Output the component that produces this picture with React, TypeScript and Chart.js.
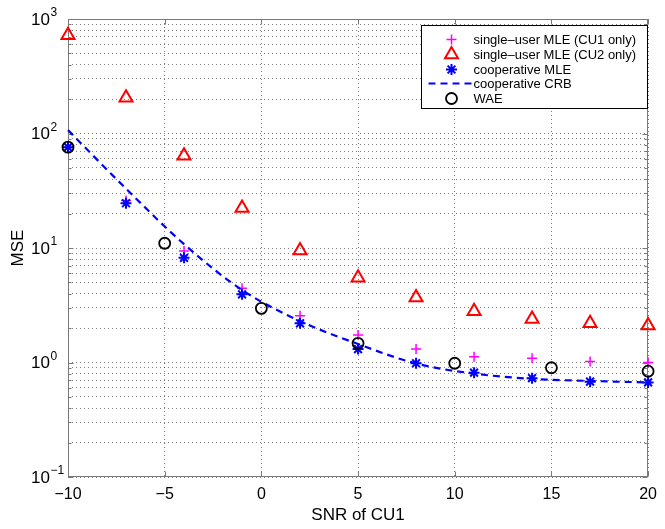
import { useEffect, useRef } from 'react';
import { Chart, registerables } from 'chart.js';
import { drawPoint } from 'chart.js/helpers';

Chart.register(...registerables);

// SNR positions (dB)
const snrMle = [-10, -7, -4, -1, 2, 5, 8, 11, 14, 17, 20];
const snrWae = [-10, -5, 0, 5, 10, 15, 20];

// MSE values
const mseCu1Only = [76, 26, 9.4, 4.45, 2.56, 1.74, 1.31, 1.12, 1.09, 1.02, 1.0];
const mseCu2Only = [720, 205, 64, 22.3, 9.5, 5.5, 3.7, 2.8, 2.4, 2.2, 2.1];
const mseCoopMle = [76, 24.6, 8.2, 3.94, 2.2, 1.31, 0.985, 0.815, 0.73, 0.68, 0.67];
const mseCoopCrb = [107, 33, 10.8, 4.3, 2.3, 1.45, 0.98, 0.8, 0.72, 0.69, 0.67];
const mseWae = [76, 11.0, 2.97, 1.47, 0.985, 0.9, 0.84];

const xTickValues = [-10, -5, 0, 5, 10, 15, 20];
const yDecadeExponents = [-1, 0, 1, 2, 3];
const yMantissas = [1, 2, 3, 4, 5, 6, 7, 8, 9];

const seriesLabels = [
  'single–user MLE (CU1 only)',
  'single–user MLE (CU2 only)',
  'cooperative MLE',
  'cooperative CRB',
  'WAE',
];

const FONT = '"Liberation Sans", Arial, Helvetica, sans-serif';

function buildYTicks(): number[] {
  const out: number[] = [];
  for (let e = -1; e < 3; e++) {
    for (const m of yMantissas) out.push(Number((m * Math.pow(10, e)).toPrecision(10)));
  }
  out.push(1000);
  return out;
}

function isDecade(v: number) {
  const l = Math.log10(v);
  return Math.abs(l - Math.round(l)) < 1e-9;
}

const toPts = (xs: number[], ys: number[]) => xs.map((x, i) => ({ x, y: ys[i] }));

export default function App() {
  const ref = useRef<HTMLCanvasElement>(null);

  useEffect(() => {
    document.body.style.margin = '0';
    const canvas = ref.current;
    if (!canvas) return;

    const frame = {
      id: 'frame',
      beforeDatasetsDraw(chart: any) {
        const { ctx, chartArea: a, scales } = chart;
        const L = Math.round(a.left) + 0.5;
        const R = Math.round(a.right) - 0.5;
        const T = Math.round(a.top) + 0.5;
        const B = Math.round(a.bottom) - 0.5;
        ctx.save();
        ctx.strokeStyle = '#7a7a7a';
        ctx.lineWidth = 1;
        ctx.setLineDash([]);
        ctx.strokeRect(L, T, R - L, B - T);
        ctx.beginPath();
        for (const t of scales.x.ticks) {
          const px = Math.round(scales.x.getPixelForValue(t.value)) + 0.5;
          ctx.moveTo(px, B);
          ctx.lineTo(px, B - 5);
          ctx.moveTo(px, T);
          ctx.lineTo(px, T + 5);
        }
        for (const t of scales.y.ticks) {
          const py = Math.round(scales.y.getPixelForValue(t.value)) + 0.5;
          const len = isDecade(t.value) ? 5 : 3;
          ctx.moveTo(L, py);
          ctx.lineTo(L + len, py);
          ctx.moveTo(R, py);
          ctx.lineTo(R - len, py);
        }
        ctx.stroke();
        ctx.restore();
      },
      afterDraw(chart: any) {
        const { ctx, chartArea: a, scales } = chart;
        ctx.save();
        // y decade labels with superscript exponents
        ctx.fillStyle = '#000';
        for (const e of yDecadeExponents) {
          const py = scales.y.getPixelForValue(Math.pow(10, e));
          ctx.font = `17px ${FONT}`;
          ctx.textAlign = 'right';
          ctx.textBaseline = 'middle';
          ctx.fillText('10', a.left - 18, py + 1);
          ctx.font = `12px ${FONT}`;
          ctx.textAlign = 'left';
          ctx.fillText(e < 0 ? '−' + Math.abs(e) : String(e), a.left - 17.5, py - 6);
        }
        // legend
        const w = 226;
        const h = 83;
        const left = Math.round(a.right) - 1 - w + 0.5;
        const top = Math.round(a.top) + 6 + 0.5;
        ctx.fillStyle = '#fff';
        ctx.fillRect(left, top, w, h);
        ctx.strokeStyle = '#000';
        ctx.lineWidth = 1;
        ctx.setLineDash([]);
        ctx.strokeRect(left, top, w, h);
        const rows = [14, 29, 44, 58, 73];
        const ds = chart.data.datasets;
        ds.forEach((d: any, i: number) => {
          const y = top + rows[i];
          const mx = left + 30;
          ctx.save();
          if (d.pointRadius === 0) {
            ctx.strokeStyle = d.borderColor;
            ctx.lineWidth = d.borderWidth;
            ctx.setLineDash(d.borderDash);
            ctx.beginPath();
            ctx.moveTo(left + 7, y);
            ctx.lineTo(left + 51, y);
            ctx.stroke();
          } else {
            ctx.strokeStyle = d.borderColor;
            ctx.fillStyle = d.backgroundColor;
            ctx.lineWidth = d.pointBorderWidth;
            drawPoint(ctx, {
              pointStyle: d.pointStyle,
              rotation: 0,
              radius: d.pointRadius,
              borderWidth: d.pointBorderWidth,
            } as any, mx, y);
          }
          ctx.restore();
          ctx.fillStyle = '#000';
          ctx.font = `13px ${FONT}`;
          ctx.textAlign = 'left';
          ctx.textBaseline = 'middle';
          ctx.fillText(d.label, left + 52, y + 1);
        });
        ctx.restore();
      },
    };

    const yTicks = buildYTicks();

    const chart = new Chart(canvas, {
      type: 'scatter',
      data: {
        datasets: [
          {
            label: seriesLabels[0],
            data: toPts(snrMle, mseCu1Only),
            pointStyle: 'cross',
            pointRadius: 5,
            pointBorderWidth: 1.5,
            borderColor: '#ff00ff',
            backgroundColor: '#ff00ff',
            clip: false,
            order: 5,
          },
          {
            label: seriesLabels[1],
            data: toPts(snrMle, mseCu2Only),
            pointStyle: 'triangle',
            pointRadius: 7.5,
            pointBorderWidth: 2,
            borderColor: '#ff0000',
            backgroundColor: 'rgba(0,0,0,0)',
            clip: false,
            order: 4,
          },
          {
            label: seriesLabels[2],
            data: toPts(snrMle, mseCoopMle),
            pointStyle: 'star',
            pointRadius: 5.5,
            pointBorderWidth: 2,
            borderColor: '#0000ff',
            backgroundColor: '#0000ff',
            clip: false,
            order: 3,
          },
          {
            type: 'line',
            label: seriesLabels[3],
            data: toPts(snrMle, mseCoopCrb),
            showLine: true,
            pointRadius: 0,
            borderColor: '#0000ff',
            backgroundColor: '#0000ff',
            borderWidth: 2.2,
            borderDash: [7, 5],
            fill: false,
            cubicInterpolationMode: 'monotone',
            clip: false,
            order: 2,
          } as any,
          {
            label: seriesLabels[4],
            data: toPts(snrWae, mseWae),
            pointStyle: 'circle',
            pointRadius: 5.5,
            pointBorderWidth: 1.8,
            borderColor: '#000000',
            backgroundColor: 'rgba(0,0,0,0)',
            clip: false,
            order: 1,
          },
        ],
      },
      options: {
        animation: false,
        responsive: true,
        maintainAspectRatio: false,
        layout: { padding: { top: 19, right: 12, left: 0, bottom: 0 } },
        plugins: { legend: { display: false }, tooltip: { enabled: false } },
        scales: {
          x: {
            type: 'linear',
            min: -10,
            max: 20,
            afterBuildTicks: (s: any) => {
              s.ticks = xTickValues.map((v) => ({ value: v }));
            },
            afterFit: (s: any) => {
              s.height = 52;
            },
            ticks: {
              color: '#000',
              font: { family: FONT, size: 16 },
              padding: 8,
              maxRotation: 0,
              autoSkip: false,
              callback: (v: any) => (Number(v) < 0 ? '−' + Math.abs(Number(v)) : String(v)),
            },
            grid: { color: 'rgba(0,0,0,0.5)', lineWidth: 1, drawTicks: false },
            border: { display: false, dash: [1, 3] },
            title: {
              display: true,
              text: 'SNR of CU1',
              color: '#000',
              font: { family: FONT, size: 17 },
              padding: { top: 0, bottom: 3 },
            },
          },
          y: {
            type: 'logarithmic',
            min: 0.1,
            max: 1000,
            afterBuildTicks: (s: any) => {
              s.ticks = yTicks.map((v) => ({ value: v, major: isDecade(v) }));
            },
            afterFit: (s: any) => {
              s.width = 68;
            },
            ticks: { display: false, autoSkip: false },
            grid: { color: 'rgba(0,0,0,0.5)', lineWidth: 1, drawTicks: false },
            border: { display: false, dash: [1, 3] },
            title: {
              display: true,
              text: 'MSE',
              color: '#000',
              font: { family: FONT, size: 17 },
              padding: { top: 8, bottom: 0 },
            },
          },
        },
      },
      plugins: [frame],
    } as any);

    return () => chart.destroy();
  }, []);

  return (
    <div style={{ position: 'relative', width: 665, height: 529 }}>
      <canvas ref={ref} />
    </div>
  );
}
